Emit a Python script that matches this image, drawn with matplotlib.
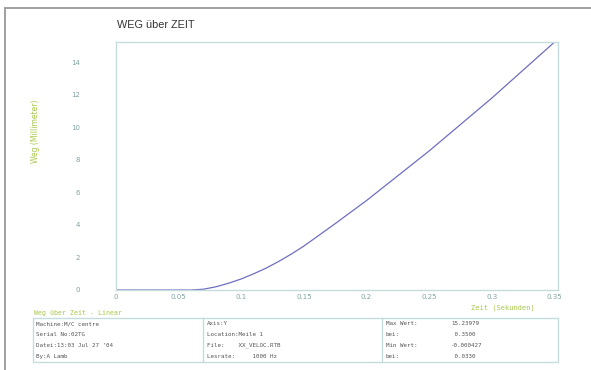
import matplotlib.pyplot as plt
from matplotlib import font_manager
from matplotlib.lines import Line2D
from matplotlib.patches import Rectangle

# curve
zeit = [0.0, 0.05, 0.06, 0.07, 0.08, 0.09, 0.10, 0.11, 0.12, 0.13, 0.14, 0.15,
        0.175, 0.20, 0.25, 0.30, 0.35]
weg = [0.0, 0.0, 0.0, 0.05, 0.20, 0.42, 0.68, 1.00, 1.35, 1.76, 2.21, 2.70,
       4.08, 5.50, 8.55, 11.80, 15.24]

x_ticks = [0, 0.05, 0.1, 0.15, 0.2, 0.25, 0.3, 0.35]
x_labels = ["0", "0.05", "0.1", "0.15", "0.2", "0.25", "0.3", "0.35"]
y_ticks = [0, 2, 4, 6, 8, 10, 12, 14]

info_left = ["Machine:M/C centre", "Serial No:02TG", "Datei:13:03 Jul 27 '04", "By:A Lamb"]
info_mid = ["Axis:Y", "Location:Meile 1", "File:    XX_VELOC.RTB", "Lesrate:     1000 Hz"]
info_right_key = ["Max Wert:", "bei:", "Min Wert:", "bei:"]
info_right_val = ["15.23979", " 0.3500", "-0.000427", " 0.0330"]

W, H = 591, 370
green = "#a8c84a"
tick_col = "#7fa3a0"
spine_col = "#c6dcdc"
txt_col = "#555555"

names = {f.name for f in font_manager.fontManager.ttflist}
if "Liberation Sans Narrow" in names:
    title_font, title_size = "Liberation Sans Narrow", 9
else:
    title_font, title_size = "Liberation Sans", 7.8

fig = plt.figure(figsize=(W / 100, H / 100), dpi=100)

def fx(px):
    return px / W

def fy(py):
    return 1 - py / H

# outer frame
fig.add_artist(Line2D([fx(5), fx(5)], [fy(8), 0], color="#a0a0a0", lw=1.4))
fig.add_artist(Line2D([fx(5), 1], [fy(8), fy(8)], color="#a0a0a0", lw=1.4))

ax = fig.add_axes([fx(116), fy(290), fx(558) - fx(116), fy(42) - fy(290)])
ax.plot(zeit, weg, color="#6e6ec2", lw=0.9)
ax.set_xlim(0, 0.353)
ax.set_ylim(0, 15.26)
ax.set_xticks(x_ticks)
ax.set_xticklabels(x_labels)
ax.set_yticks(y_ticks)
ax.tick_params(axis="both", length=0, labelsize=5, colors=tick_col)
ax.tick_params(axis="y", pad=26)
ax.tick_params(axis="x", pad=3)
for s in ax.spines.values():
    s.set_color(spine_col)
    s.set_linewidth(1.0)

fig.text(fx(117), fy(25), "WEG über ZEIT", fontsize=title_size, color="#333333",
         family=title_font, va="center", ha="left")
fig.text(fx(36), fy(131), "Weg (Millimeter)", rotation=90, fontsize=5.5, color=green,
         va="center", ha="center")
fig.text(fx(503), fy(308), "Zeit (Sekunden)", fontsize=5, color=green,
         family="DejaVu Sans Mono", va="center", ha="center")
fig.text(fx(34), fy(313), "Weg über Zeit - Linear", fontsize=4.8, color=green,
         family="DejaVu Sans Mono", va="center", ha="left")

# info table
tx0, tx1, ty0, ty1 = 33, 558, 318, 362
fig.add_artist(Rectangle((fx(tx0), fy(ty1)), fx(tx1) - fx(tx0), fy(ty0) - fy(ty1),
                         fill=False, edgecolor=spine_col, lw=1.0))
for xd in (203, 382):
    fig.add_artist(Line2D([fx(xd), fx(xd)], [fy(ty0), fy(ty1)], color=spine_col, lw=1.0))

rows_y = [323.5, 334.5, 345.5, 356.5]
mono = dict(fontsize=4.2, color=txt_col, family="DejaVu Sans Mono", va="center", ha="left")
for i, y in enumerate(rows_y):
    fig.text(fx(36), fy(y), info_left[i], **mono)
    fig.text(fx(207), fy(y), info_mid[i], **mono)
    fig.text(fx(386), fy(y), info_right_key[i], **mono)
    fig.text(fx(451), fy(y), info_right_val[i], **mono)

fig.savefig("out.png", dpi=100)
